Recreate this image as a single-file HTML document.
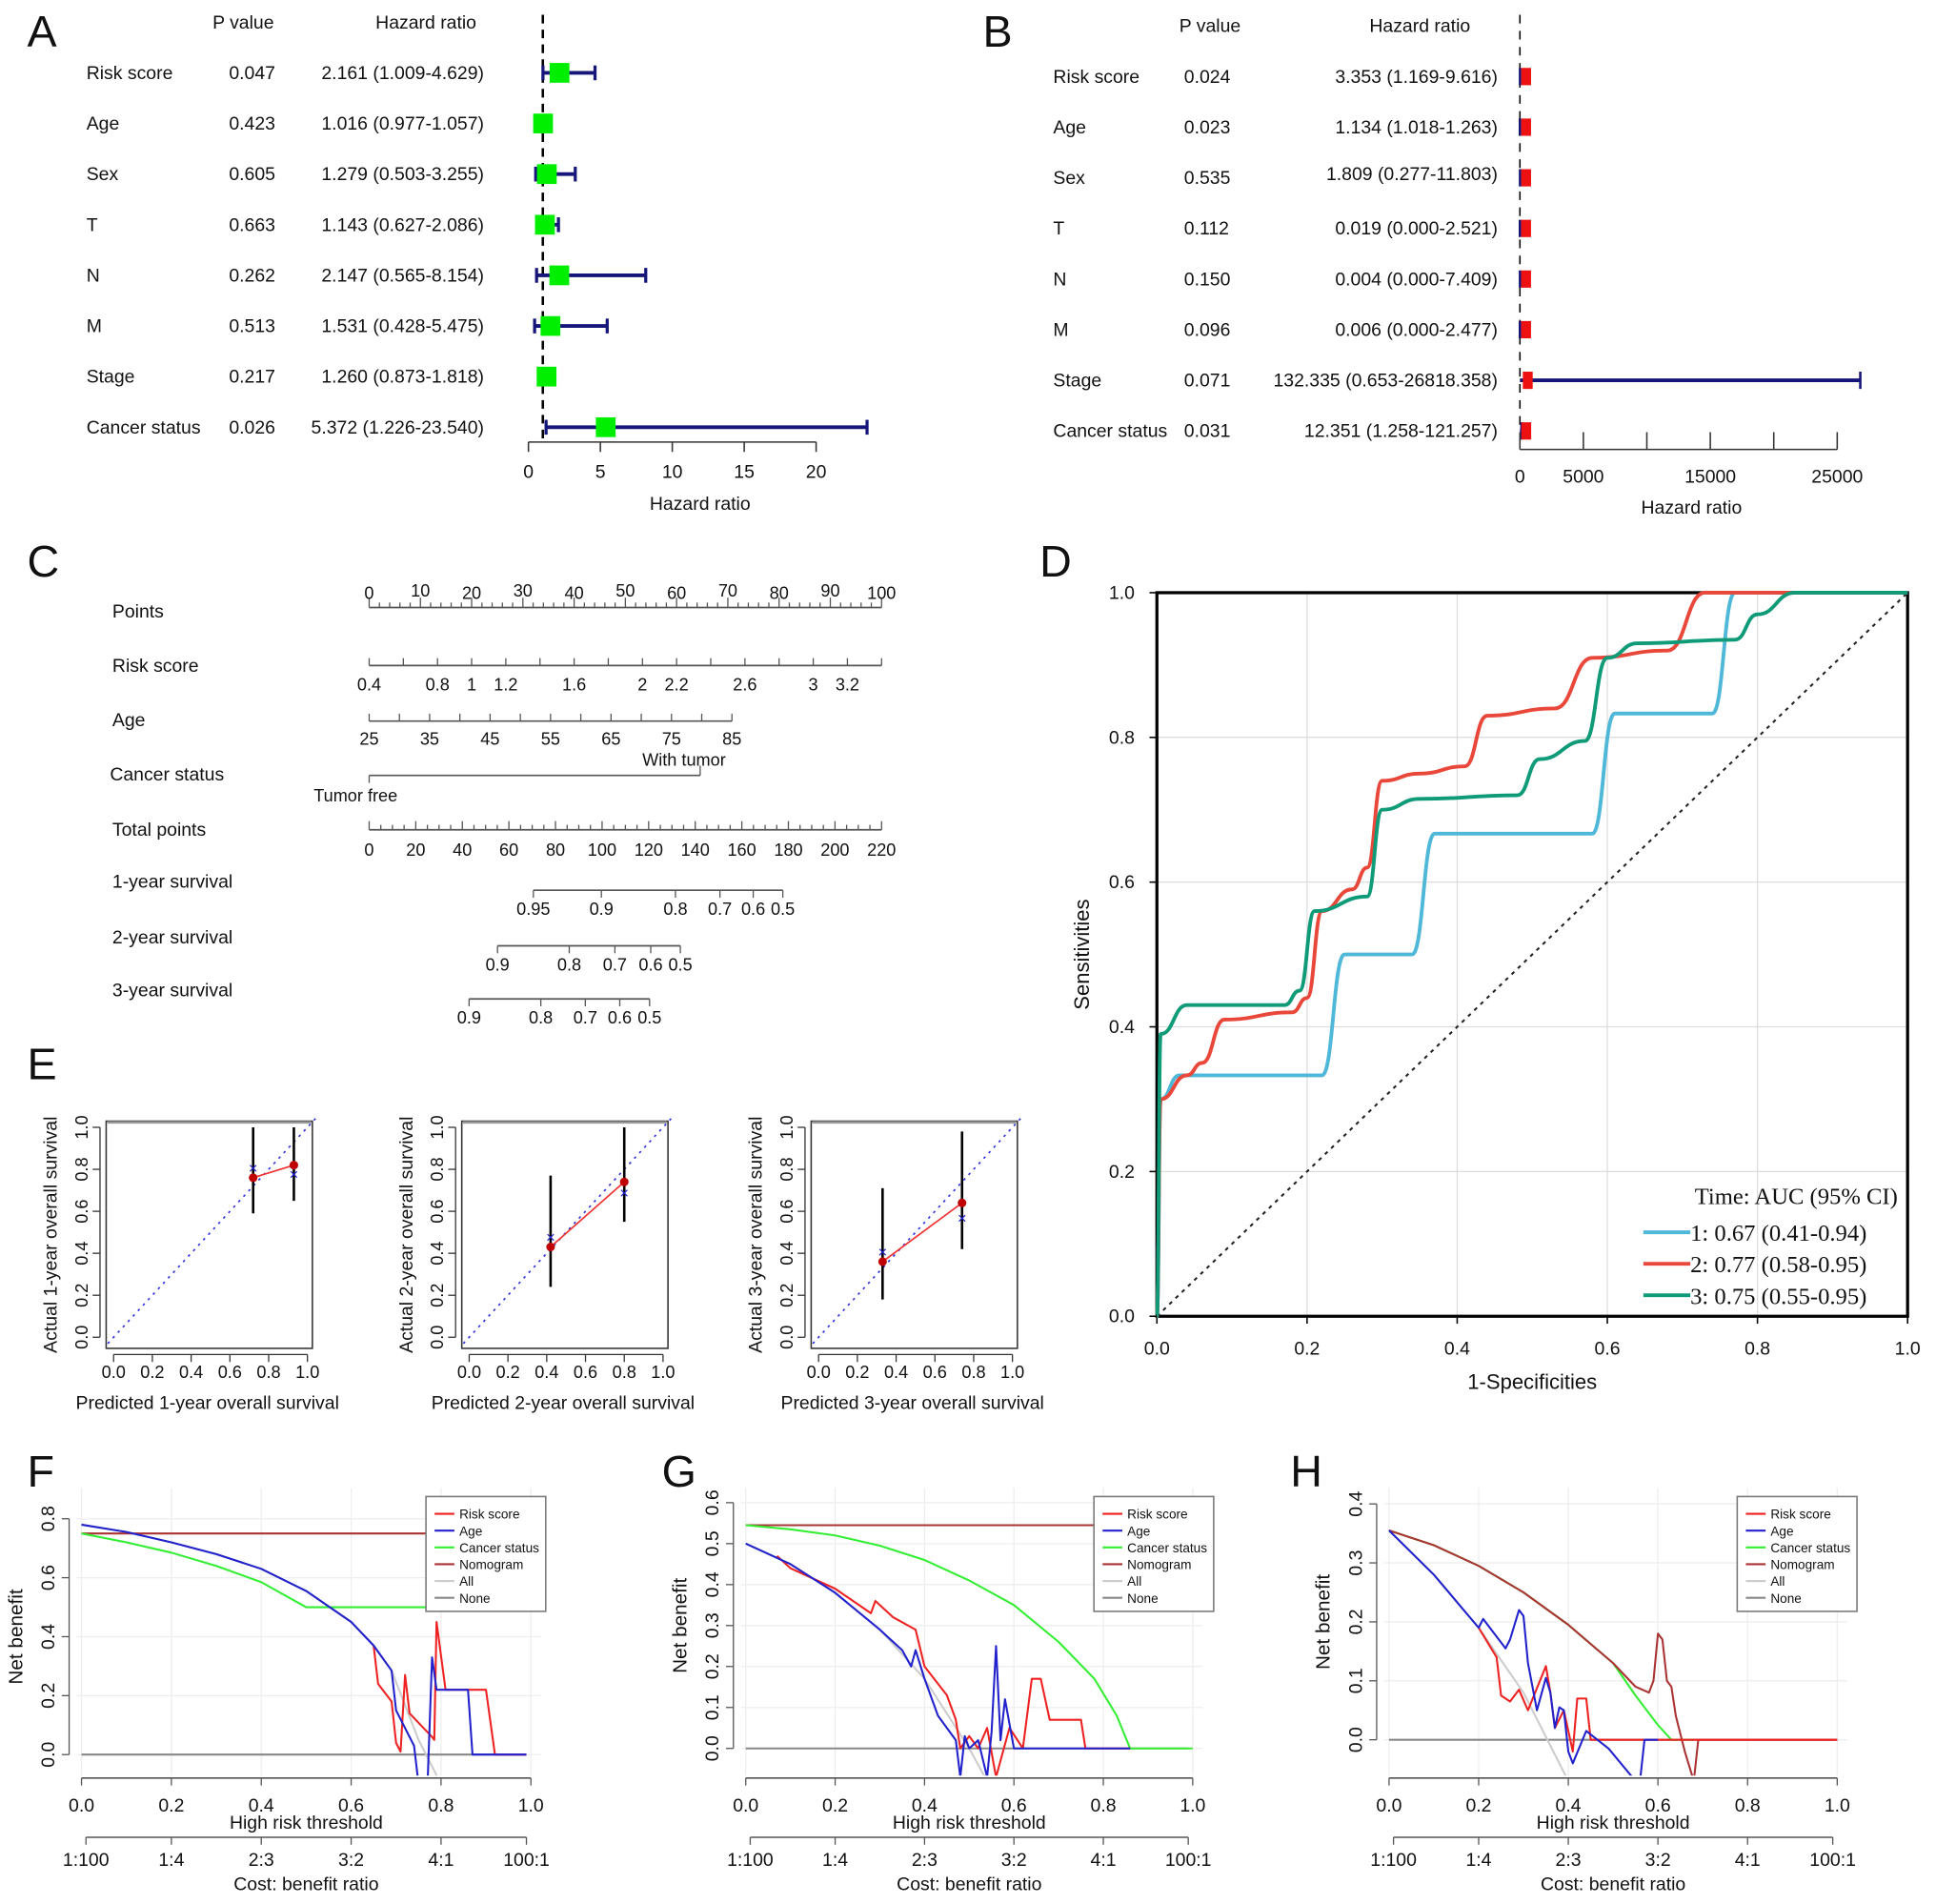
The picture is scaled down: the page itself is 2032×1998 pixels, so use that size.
<!DOCTYPE html>
<html><head><meta charset="utf-8"><style>
html,body{margin:0;padding:0;background:#fff;}
svg{display:block;font-family:"Liberation Sans",Arial,sans-serif;}
</style></head>
<body>
<svg id="fig" width="2032" height="1998" viewBox="0 0 1568 1542" preserveAspectRatio="none" xmlns="http://www.w3.org/2000/svg"></svg>
<script>
// ===== Panel A data =====
const aVars=['Risk score','Age','Sex','T','N','M','Stage','Cancer status'];
const aP=['0.047','0.423','0.605','0.663','0.262','0.513','0.217','0.026'];
const aHR=[2.161,1.016,1.279,1.143,2.147,1.531,1.260,5.372];
const aLo=[1.009,0.977,0.503,0.627,0.565,0.428,0.873,1.226];
const aHi=[4.629,1.057,3.255,2.086,8.154,5.475,1.818,23.540];
const aTicks=[0,5,10,15,20];
// ===== Panel B data =====
const bP=['0.024','0.023','0.535','0.112','0.150','0.096','0.071','0.031'];
const bHR=[3.353,1.134,1.809,0.019,0.004,0.006,132.335,12.351];
const bLo=[1.169,1.018,0.277,0.000,0.000,0.000,0.653,1.258];
const bHi=[9.616,1.263,11.803,2.521,7.409,2.477,26818.358,121.257];
const bTicks=[0,5000,10000,15000,20000,25000];
const bTickLabels=['0','5000','','15000','','25000'];
// ===== Panel C nomogram data =====
const riskVals=[0.4,0.6,0.8,1,1.2,1.4,1.6,1.8,2,2.2,2.4,2.6,2.8,3,3.2,3.4];
const riskLabels=['0.4','','0.8','1','1.2','','1.6','','2','2.2','','2.6','','3','3.2',''];
const ageVals=[25,30,35,40,45,50,55,60,65,70,75,80,85];
const ageLabels=['25','','35','','45','','55','','65','','75','','85'];
const cancerPoints=[0,64.6];
const surv1Probs=['0.95','0.9','0.8','0.7','0.6','0.5'];
const surv1Total=[70.5,99.7,131.5,150.6,164.9,177.6];
const surv2Probs=['0.9','0.8','0.7','0.6','0.5'];
const surv2Total=[55.1,85.9,105.5,120.9,133.6];
const surv3Probs=['0.9','0.8','0.7','0.6','0.5'];
const surv3Total=[42.9,73.7,92.8,107.6,120.4];
// ===== Panel E calibration data =====
const calPred=[[0.72,0.93],[0.42,0.80],[0.33,0.74]];
const calObs=[[0.76,0.82],[0.43,0.74],[0.36,0.64]];
const calX=[[0.81,0.78],[0.48,0.69],[0.41,0.57]];
const calLo=[[0.59,0.65],[0.24,0.55],[0.18,0.42]];
const calHi=[[1.0,1.0],[0.77,1.0],[0.71,0.98]];
// ===== Panel D ROC data =====
const roc1X=[0,0.005,0.03,0.22,0.25,0.34,0.37,0.58,0.61,0.74,0.77,1];
const roc1Y=[0,0.30,0.333,0.333,0.5,0.5,0.667,0.667,0.833,0.833,1,1];
const roc2X=[0,0.005,0.04,0.06,0.09,0.18,0.2,0.22,0.26,0.28,0.30,0.35,0.41,0.44,0.53,0.58,0.68,0.73,1];
const roc2Y=[0,0.30,0.333,0.35,0.41,0.42,0.44,0.56,0.59,0.62,0.74,0.75,0.76,0.83,0.84,0.91,0.92,1.0,1];
const roc3X=[0,0.005,0.04,0.17,0.19,0.21,0.28,0.30,0.35,0.48,0.51,0.57,0.60,0.64,0.77,0.80,0.85,1];
const roc3Y=[0,0.39,0.43,0.43,0.45,0.56,0.58,0.70,0.715,0.72,0.77,0.795,0.91,0.93,0.935,0.97,1.0,1];
// ===== DCA data =====
const fNomX=[0,1],fNomY=[0.75,0.75];
const fAllX=[0,0.1,0.2,0.3,0.4,0.5,0.6,0.65,0.69,0.75,0.8],fAllY=[0.78,0.755,0.72,0.68,0.63,0.555,0.45,0.37,0.285,0.05,-0.1];
const fCanX=[0,0.1,0.2,0.3,0.4,0.5,0.77],fCanY=[0.75,0.72,0.685,0.64,0.585,0.5,0.5];
const fAgeX=[0,0.1,0.2,0.3,0.4,0.5,0.6,0.65,0.69,0.7,0.74,0.75,0.77,0.78,0.79,0.86,0.87,0.99],fAgeY=[0.78,0.755,0.72,0.68,0.63,0.555,0.45,0.37,0.285,0.15,0.03,-0.1,-0.1,0.33,0.22,0.22,0,0];
const fRiskX=[0.65,0.66,0.69,0.70,0.71,0.72,0.73,0.78,0.785,0.79,0.81,0.90,0.92,0.99],fRiskY=[0.37,0.24,0.18,0.04,0.01,0.27,0.14,0.06,0.05,0.45,0.22,0.22,0,0];
const gNomX=[0,1],gNomY=[0.545,0.545];
const gCanX=[0,0.1,0.2,0.3,0.4,0.5,0.6,0.7,0.78,0.83,0.86,1],gCanY=[0.545,0.535,0.52,0.495,0.46,0.41,0.35,0.26,0.17,0.08,0,0];
const gAllX=[0,0.1,0.2,0.3,0.4,0.5,0.55],gAllY=[0.5,0.45,0.38,0.29,0.17,0.0,-0.1];
const gAgeX=[0,0.1,0.2,0.3,0.35,0.37,0.38,0.4,0.43,0.45,0.47,0.48,0.49,0.5,0.52,0.54,0.55,0.56,0.57,0.58,0.6,0.86],gAgeY=[0.5,0.45,0.38,0.29,0.24,0.2,0.24,0.17,0.08,0.05,0.02,-0.07,0.03,0.0,0.02,-0.07,0.04,0.25,0.02,0.12,0,0];
const gRiskX=[0.07,0.1,0.2,0.28,0.29,0.33,0.38,0.4,0.45,0.47,0.48,0.5,0.52,0.54,0.56,0.59,0.62,0.64,0.66,0.68,0.75,0.76,0.86],gRiskY=[0.47,0.44,0.39,0.33,0.36,0.32,0.29,0.2,0.13,0.07,0.0,0.03,0.0,0.05,-0.07,0.05,0.0,0.17,0.17,0.07,0.07,0,0];
const hNomX=[0,0.1,0.2,0.3,0.4,0.5,0.55,0.58,0.59,0.60,0.61,0.62,0.63,0.64,0.66,0.68,0.69,1.0],hNomY=[0.355,0.33,0.295,0.25,0.195,0.13,0.09,0.08,0.1,0.18,0.17,0.1,0.09,0.04,-0.02,-0.07,0,0];
const hCanX=[0,0.1,0.2,0.3,0.4,0.5,0.55,0.6,0.63,0.68],hCanY=[0.355,0.33,0.295,0.25,0.195,0.13,0.075,0.025,0,0];
const hAllX=[0,0.1,0.2,0.3,0.4],hAllY=[0.355,0.28,0.19,0.08,-0.07];
const hAgeX=[0,0.1,0.2,0.21,0.26,0.27,0.29,0.30,0.31,0.33,0.35,0.36,0.37,0.38,0.39,0.40,0.41,0.44,0.49,0.55,0.56,0.57,0.6],hAgeY=[0.355,0.28,0.19,0.205,0.155,0.17,0.22,0.21,0.13,0.05,0.105,0.08,0.02,0.055,0.05,-0.02,-0.04,0.015,-0.015,-0.07,-0.07,0,0];
const hRiskX=[0.2,0.24,0.25,0.27,0.29,0.31,0.35,0.36,0.37,0.39,0.41,0.42,0.44,0.45,0.46,1.0],hRiskY=[0.19,0.14,0.075,0.065,0.085,0.05,0.125,0.08,0.02,0.05,-0.02,0.07,0.07,0,0,0];
const dcaTicks=[0,0.2,0.4,0.6,0.8,1.0];
const costX=[0.01,0.2,0.4,0.6,0.8,0.99];
const costLabels=['1:100','1:4','2:3','3:2','4:1','100:1'];

const NS='http://www.w3.org/2000/svg';
const svg=document.getElementById('fig');
function el(tag,attrs,name,parent){
  const e=document.createElementNS(NS,tag);
  for(const k in attrs) e.setAttribute(k,attrs[k]);
  
  
  (parent||svg).appendChild(e);
  return e;
}
function txt(x,y,s,name,size,anchor,extra){
  const a=Object.assign({x:x,y:y,'font-size':size||15,'text-anchor':anchor||'start',fill:'#111'},extra||{});
  const t=el('text',a,name);
  t.textContent=s;
  return t;
}
function line(x1,y1,x2,y2,name,stroke,w,extra){
  return el('line',Object.assign({x1:x1,y1:y1,x2:x2,y2:y2,stroke:stroke||'#000','stroke-width':w||1},extra||{}),name);
}
function poly(xs,ys,X,Y,name,stroke,w){
  const pts=xs.map((v,i)=>X(v)+','+Y(ys[i])).join(' ');
  return el('polyline',{points:pts,fill:'none',stroke:stroke,'stroke-width':w||1.6,'stroke-linejoin':'round'},name);
}

// Panel letters
txt(22,38,'A','panel-label-a',36);
txt(796,38,'B','panel-label-b',36);
txt(22,467,'C','panel-label-c',36);
txt(842,467,'D','panel-label-d',36);
txt(22,874,'E','panel-label-e',36);
txt(22,1204,'F','panel-label-f',36);
txt(536,1204,'G','panel-label-g',36);
txt(1045,1204,'H','panel-label-h',36);

// ===== Panel A =====
const xA=v=>428+v*11.65;
txt(197,23,'P value','a-pvalue-header',15,'middle');
txt(345,23,'Hazard ratio','a-hr-header',15,'middle');
line(xA(1),12,xA(1),356,'a-reference-line','#000',2,{'stroke-dasharray':'7,5'});
aVars.forEach((v,i)=>{
  const y=59+i*41;
  txt(70,y+5,v,'a-variable-label',15);
  txt(223,y+5,aP[i],'a-pvalue',15,'end');
  txt(392,y+5,aHR[i].toFixed(3)+' ('+aLo[i].toFixed(3)+'-'+aHi[i].toFixed(3)+')','a-hr-text',15,'end');
  line(xA(aLo[i]),y,xA(aHi[i]),y,'a-ci-line','#16167a',3);
  line(xA(aLo[i]),y-6,xA(aLo[i]),y+6,'a-ci-cap','#16167a',2.5);
  line(xA(aHi[i]),y-6,xA(aHi[i]),y+6,'a-ci-cap','#16167a',2.5);
  el('rect',{x:xA(aHR[i])-8,y:y-8,width:16,height:16,fill:'#00ee00'},'a-hr-square');
});
line(xA(0),358,xA(20),358,'a-x-axis','#333',1.2);
aTicks.forEach(t=>{
  line(xA(t),358,xA(t),366,'a-x-tick','#333',1.2);
  txt(xA(t),387,String(t),'a-x-tick-label',15,'middle');
});
txt(567,413,'Hazard ratio','a-x-axis-title',15,'middle');

// ===== Panel B =====
const xB=v=>1231+v*257/25000;
txt(980,26,'P value','b-pvalue-header',15,'middle');
txt(1150,26,'Hazard ratio','b-hr-header',15,'middle');
line(xB(1),12,xB(1),360,'b-reference-line','#000',1.2,{'stroke-dasharray':'7,6'});
aVars.forEach((v,i)=>{
  const y=62+i*41;
  txt(853,y+5,v,'b-variable-label',15);
  txt(959,y+5,bP[i],'b-pvalue',15);
  txt(1213,y+5-(i==2?3:0),bHR[i].toFixed(3)+' ('+bLo[i].toFixed(3)+'-'+bHi[i].toFixed(3)+')','b-hr-text',15,'end');
  line(xB(bLo[i]),y,xB(bHi[i]),y,'b-ci-line','#16167a',3);
  line(xB(bHi[i]),y-7,xB(bHi[i]),y+7,'b-ci-cap','#16167a',2);
  el('rect',{x:xB(bHR[i])+1,y:y-7,width:8,height:14,fill:'#ee1111'},'b-hr-square');
});
line(xB(0),364,xB(25000),364,'b-x-axis','#333',1.2);
bTicks.forEach((t,i)=>{
  line(xB(t),364,xB(t),350,'b-x-tick','#333',1.2);
  txt(xB(t),391,bTickLabels[i],'b-x-tick-label',15,'middle');
});
txt(1370,416,'Hazard ratio','b-x-axis-title',15,'middle');

// ===== Panel C nomogram =====
const pX=p=>299+p*4.15;
const tX=t=>299+t*415/220;
const G='#555';
txt(91,500,'Points','c-points-label',15);
line(pX(0),492,pX(100),492,'c-points-axis',G,1.3);
for(let p=0;p<=100;p+=2){ line(pX(p),492,pX(p),p%10===0?484:488,'c-points-tick',G,1); }
for(let p=0;p<=100;p+=10){ txt(pX(p),485-(p%20===10?2:0),String(p),'c-points-tick-label',14,'middle'); }
txt(91,544,'Risk score','c-risk-label',15);
line(pX(0),539,pX(100),539,'c-risk-axis',G,1.3);
riskVals.forEach((v,i)=>{ const x=pX((v-0.4)/3*100); line(x,539,x,533,'c-risk-tick',G,1); txt(x,559,riskLabels[i],'c-risk-tick-label',14,'middle'); });
txt(91,588,'Age','c-age-label',15);
line(pX(0),584,pX(70.8),584,'c-age-axis',G,1.3);
ageVals.forEach((v,i)=>{ const x=pX((v-25)/60*70.8); line(x,584,x,578,'c-age-tick',G,1); txt(x,603,ageLabels[i],'c-age-tick-label',14,'middle'); });
txt(89,632,'Cancer status','c-cancer-label',15);
line(pX(cancerPoints[0]),628,pX(cancerPoints[1]),628,'c-cancer-axis',G,1.3);
line(pX(cancerPoints[0]),628,pX(cancerPoints[0]),634,'c-cancer-tick',G,1);
line(pX(cancerPoints[1]),628,pX(cancerPoints[1]),620,'c-cancer-tick',G,1);
txt(554,620,'With tumor','c-with-tumor-label',14,'middle');
txt(288,649,'Tumor free','c-tumor-free-label',14,'middle');
txt(91,677,'Total points','c-total-label',15);
line(tX(0),672,tX(220),672,'c-total-axis',G,1.3);
for(let t=0;t<=220;t+=5){ line(tX(t),672,tX(t),t%20===0?665:668,'c-total-tick',G,1); }
for(let t=0;t<=220;t+=20){ txt(tX(t),693,String(t),'c-total-tick-label',14,'middle'); }
function survAxis(lab,y,probs,tot,nm){
  txt(91,y,lab,nm+'-label',15);
  line(tX(tot[0]),y+2,tX(tot[tot.length-1]),y+2,nm+'-axis',G,1.3);
  tot.forEach((t,i)=>{ line(tX(t),y+2,tX(t),y+8,nm+'-tick',G,1); txt(tX(t),y+22,probs[i],nm+'-tick-label',14,'middle'); });
}
survAxis('1-year survival',719,surv1Probs,surv1Total,'c-surv1');
survAxis('2-year survival',764,surv2Probs,surv2Total,'c-surv2');
survAxis('3-year survival',807,surv3Probs,surv3Total,'c-surv3');

// ===== Panel E calibration =====
const offs=[0,288,571];
[0,1,2].forEach(k=>{
  const o=offs[k];
  const X=v=>92+o+v*157, Y=v=>1083-v*170;
  el('rect',{x:86+o,y:908,width:167,height:184,fill:'none',stroke:'#333','stroke-width':1.2},'e-plot-box');
  line(87+o,909,252+o,909,'e-rug','#999',2);
  line(X(0),1097,X(1),1097,'e-x-axis','#333',1);
  line(81+o,Y(0),81+o,Y(1),'e-y-axis','#333',1);
  for(let i=0;i<=5;i++){
    const v=i/5;
    line(X(v),1097,X(v),1103,'e-x-tick','#333',1);
    txt(X(v),1116,v.toFixed(1),'e-x-tick-label',14,'middle');
    line(81+o,Y(v),75+o,Y(v),'e-y-tick','#333',1);
    txt(71+o,Y(v),v.toFixed(1),'e-y-tick-label',14,'middle',{transform:'rotate(-90 '+(71+o)+' '+Y(v)+')'});
  }
  line(X(-0.03),Y(-0.03),X(1.05),Y(1.05),'e-ideal-line','#3333dd',1.3,{'stroke-dasharray':'2,4'});
  txt(46+o,1000,'Actual '+(k+1)+'-year overall survival','e-y-axis-title',15,'middle',{transform:'rotate(-90 '+(46+o)+' 1000)'});
  txt(168+o,1141,'Predicted '+(k+1)+'-year overall survival','e-x-axis-title',15,'middle');
  poly(calPred[k],calObs[k],X,Y,'e-observed-line','#ee3333',1.3);
  calPred[k].forEach((p,i)=>{
    line(X(p),Y(calLo[k][i]),X(p),Y(calHi[k][i]),'e-ci-bar','#000',2);
    el('circle',{cx:X(p),cy:Y(calObs[k][i]),r:3.5,fill:'#c00000'},'e-observed-point');
    const tx=el('text',{x:X(p),y:Y(calX[k][i])+5,'font-size':13,'text-anchor':'middle',fill:'#2222cc'},'e-apparent-point');
    tx.textContent='×';
  });
});

// ===== Panel D ROC =====
const xD=v=>937+v*608, yD=v=>1066-v*586;
for(let i=1;i<=4;i++){
  line(xD(i/5),yD(0),xD(i/5),yD(1),'d-grid-v','#ddd',1);
  line(xD(0),yD(i/5),xD(1),yD(i/5),'d-grid-h','#ddd',1);
}
el('rect',{x:xD(0),y:yD(1),width:608,height:586,fill:'none',stroke:'#000','stroke-width':2.5},'d-plot-box');
for(let i=0;i<=5;i++){
  const v=i/5;
  line(xD(v),yD(0),xD(v),yD(0)+6,'d-x-tick','#000',1.2);
  txt(xD(v),1097,v.toFixed(1),'d-x-tick-label',15,'middle');
  line(xD(0),yD(v),xD(0)-6,yD(v),'d-y-tick','#000',1.2);
  txt(919,yD(v)+5,v.toFixed(1),'d-y-tick-label',15,'end');
}
txt(1241,1125,'1-Specificities','d-x-axis-title',17,'middle');
txt(882,773,'Sensitivities','d-y-axis-title',17,'middle',{transform:'rotate(-90 882 773)'});
line(xD(0),yD(0),xD(1),yD(1),'d-diagonal','#222',1.6,{'stroke-dasharray':'3,4'});
function sPath(xs,ys){
  let d='M'+xD(xs[0])+','+yD(ys[0]);
  for(let i=1;i<xs.length;i++){
    const x1=xD(xs[i-1]),x2=xD(xs[i]),y1=yD(ys[i-1]),y2=yD(ys[i]),m=(x1+x2)/2;
    d+=' C'+m+','+y1+' '+m+','+y2+' '+x2+','+y2;
  }
  return d;
}
el('path',{d:sPath(roc1X,roc1Y),fill:'none',stroke:'#4fb8d8','stroke-width':3},'d-roc-year1');
el('path',{d:sPath(roc2X,roc2Y),fill:'none',stroke:'#e8473a','stroke-width':3},'d-roc-year2');
el('path',{d:sPath(roc3X,roc3Y),fill:'none',stroke:'#0f9a78','stroke-width':3},'d-roc-year3');
const serif={'font-family':'"Liberation Serif",serif'};
txt(1537,975,'Time: AUC (95% CI)','d-legend-title',19,'end',serif);
[['#4fb8d8','1: 0.67 (0.41-0.94)'],['#e8473a','2: 0.77 (0.58-0.95)'],['#0f9a78','3: 0.75 (0.55-0.95)']].forEach((e,i)=>{
  const y=998+i*25.5;
  line(1331,y,1369,y,'d-legend-swatch',e[0],3);
  txt(1369,y+7,e[1],'d-legend-entry',19,'start',serif);
});

// ===== DCA panels =====
function dca(c){
  const X=v=>c.x0+v*(c.x1-c.x0), Y=v=>c.y0-v*c.s;
  const top=1205, bot=1440;
  dcaTicks.forEach(t=>line(X(t),top,X(t),bot-2,c.id+'-grid-v','#eee',1));
  c.yt.forEach(t=>line(c.x0-4,Y(t),c.x1+8,Y(t),c.id+'-grid-h','#eee',1));
  const g=el('g',{'clip-path':'url(#clip-'+c.id+')'},c.id+'-series-group');
  const cp=el('clipPath',{id:'clip-'+c.id},c.id+'-clip');
  el('rect',{x:c.x0-5,y:top,width:c.x1-c.x0+10,height:bot-top-2},c.id+'-clip-rect',cp);
  c.series.forEach(s=>{
    const pts=s.x.map((v,i)=>X(v)+','+Y(s.y[i])).join(' ');
    el('polyline',{points:pts,fill:'none',stroke:s.col,'stroke-width':1.6,'stroke-linejoin':'round'},c.id+'-line-'+s.n,g);
  });
  line(X(0),bot,X(1),bot,c.id+'-x-axis','#555',1.2);
  dcaTicks.forEach(t=>{
    line(X(t),bot,X(t),bot+6,c.id+'-x-tick','#555',1);
    txt(X(t),bot+27,t.toFixed(1),c.id+'-x-tick-label',15,'middle');
  });
  txt((X(0)+X(1))/2,bot+41,'High risk threshold','dca-x-axis-title',15,'middle');
  line(X(costX[0]),bot+48,X(costX[5]),bot+48,c.id+'-cost-axis','#555',1.2);
  costX.forEach((t,i)=>{
    line(X(t),bot+48,X(t),bot+54,c.id+'-cost-tick','#555',1);
    txt(X(t),bot+71,costLabels[i],c.id+'-cost-tick-label',15,'middle');
  });
  txt((X(0)+X(1))/2,bot+91,'Cost: benefit ratio','dca-cost-axis-title',15,'middle');
  line(c.x0-10,Y(c.yt[0]),c.x0-10,Y(c.yt[c.yt.length-1]),c.id+'-y-axis','#555',1);
  c.yt.forEach(t=>{
    line(c.x0-10,Y(t),c.x0-16,Y(t),c.id+'-y-tick','#555',1);
    const xx=c.x0-22;
    txt(xx,Y(t),t.toFixed(1),c.id+'-y-tick-label',15,'middle',{transform:'rotate(-90 '+xx+' '+Y(t)+')'});
  });
  const yx=c.x0-48, ym=(Y(c.yt[0])+Y(c.yt[c.yt.length-1]))/2;
  txt(yx,ym,'Net benefit','dca-y-axis-title',16,'middle',{transform:'rotate(-90 '+yx+' '+ym+')'});
  el('rect',{x:c.lx,y:1212,width:97,height:93,fill:'#fff',stroke:'#777','stroke-width':1.2},c.id+'-legend-box');
  [['Risk score','#ee2222'],['Age','#2222cc'],['Cancer status','#33ee33'],['Nomogram','#aa3333'],['All','#cccccc'],['None','#888888']].forEach((e,i)=>{
    const y=1226+i*13.6;
    line(c.lx+7,y,c.lx+23,y,c.id+'-legend-swatch',e[1],1.6);
    txt(c.lx+27,y+4,e[0],c.id+'-legend-entry',10.5);
  });
}
dca({id:'f',x0:66,x1:430,y0:1421,s:238.75,yt:[0,0.2,0.4,0.6,0.8],lx:345,series:[
  {n:'none',x:[0,0.99],y:[0,0],col:'#888888'},
  {n:'all',x:fAllX,y:fAllY,col:'#cccccc'},
  {n:'nomogram',x:fNomX,y:fNomY,col:'#aa3333'},
  {n:'cancer-status',x:fCanX,y:fCanY,col:'#33ee33'},
  {n:'risk-score',x:fRiskX,y:fRiskY,col:'#ee2222'},
  {n:'age',x:fAgeX,y:fAgeY,col:'#2222cc'}]});
dca({id:'g',x0:604,x1:966,y0:1416,s:331.7,yt:[0,0.1,0.2,0.3,0.4,0.5,0.6],lx:886,series:[
  {n:'none',x:[0,0.99],y:[0,0],col:'#888888'},
  {n:'all',x:gAllX,y:gAllY,col:'#cccccc'},
  {n:'nomogram',x:gNomX,y:gNomY,col:'#aa3333'},
  {n:'cancer-status',x:gCanX,y:gCanY,col:'#33ee33'},
  {n:'risk-score',x:gRiskX,y:gRiskY,col:'#ee2222'},
  {n:'age',x:gAgeX,y:gAgeY,col:'#2222cc'}]});
dca({id:'h',x0:1125,x1:1488,y0:1409,s:477.5,yt:[0,0.1,0.2,0.3,0.4],lx:1407,series:[
  {n:'none',x:[0,0.99],y:[0,0],col:'#888888'},
  {n:'all',x:hAllX,y:hAllY,col:'#cccccc'},
  {n:'cancer-status',x:hCanX,y:hCanY,col:'#33ee33'},
  {n:'nomogram',x:hNomX,y:hNomY,col:'#aa3333'},
  {n:'risk-score',x:hRiskX,y:hRiskY,col:'#ee2222'},
  {n:'age',x:hAgeX,y:hAgeY,col:'#2222cc'}]});
</script>
</body></html>
